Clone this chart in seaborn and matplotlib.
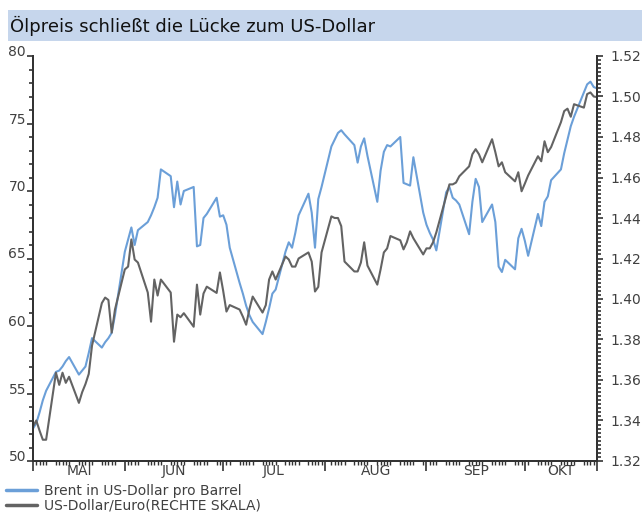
import numpy as np
import pandas as pd
import matplotlib
matplotlib.use("Agg")
import matplotlib.pyplot as plt
import matplotlib.dates as mdates
from matplotlib.ticker import MultipleLocator, FixedLocator, NullFormatter, FormatStrFormatter
from matplotlib.patches import Rectangle
from matplotlib.lines import Line2D
import seaborn as sns

# ---------------- data ----------------
title = "Ölpreis schließt die Lücke zum US-Dollar"
start_date = "2009-05-04"
end_date = "2009-10-23"

brent = [
    52.4, 52.8, 53.6, 54.5, 55.2,
    56.6, 56.7, 57.0, 57.4, 57.7,
    56.4, 56.7, 57.0, 58.0, 59.1,
    58.4, 58.8, 59.1, 59.5, 60.8,
    65.5, 66.4, 67.3, 66.0, 67.1,
    67.7, 68.2, 68.8, 69.5, 71.6,
    71.1, 68.8, 70.7, 69.0, 70.0,
    70.3, 65.9, 66.0, 68.0, 68.3,
    69.5, 68.1, 68.2, 67.5, 65.8,
    63.2, 62.4, 61.5, 60.8, 60.3,
    59.4, 60.3, 61.3, 62.4, 62.7,
    65.5, 66.2, 65.8, 66.9, 68.2,
    69.8, 68.4, 65.8, 69.4, 70.3,
    73.3, 73.8, 74.3, 74.5, 74.2,
    73.4, 72.1, 73.3, 73.9, 72.6,
    69.2, 71.5, 72.9, 73.4, 73.3,
    74.0, 70.6, 70.5, 70.4, 72.5,
    68.4, 67.5, 66.9, 66.4, 65.6,
    69.9, 70.3, 69.5, 69.3, 69.0,
    66.8, 69.2, 70.9, 70.3, 67.7,
    69.0, 67.7, 64.4, 64.0, 64.9,
    64.2, 66.5, 67.2, 66.3, 65.2,
    68.3, 67.4, 69.2, 69.6, 70.8,
    71.6, 72.8, 73.8, 74.8, 75.5,
    77.3, 77.9, 78.1, 77.7, 77.6,
]

usd_eur = [
    1.3370, 1.3400, 1.3350, 1.3305, 1.3305,
    1.3636, 1.3576, 1.3636, 1.3586, 1.3616,
    1.3487, 1.3540, 1.3580, 1.3630, 1.3770,
    1.3980, 1.4007, 1.3995, 1.3834, 1.3948,
    1.4146, 1.4160, 1.4294, 1.4195, 1.4180,
    1.4032, 1.3888, 1.4096, 1.4017, 1.4096,
    1.4032, 1.3789, 1.3923, 1.3910, 1.3930,
    1.3863, 1.4071, 1.3923, 1.4027, 1.4061,
    1.4030, 1.4131, 1.4040, 1.3938, 1.3970,
    1.3948, 1.3913, 1.3873, 1.3950, 1.4012,
    1.3933, 1.3970, 1.4096, 1.4136, 1.4096,
    1.4210, 1.4195, 1.4160, 1.4160, 1.4200,
    1.4230, 1.4185, 1.4037, 1.4060, 1.4230,
    1.4408, 1.4400, 1.4400, 1.4360, 1.4185,
    1.4136, 1.4136, 1.4180, 1.4280, 1.4165,
    1.4071, 1.4146, 1.4230, 1.4250, 1.4311,
    1.4290, 1.4245, 1.4280, 1.4334, 1.4300,
    1.4220, 1.4250, 1.4250, 1.4280, 1.4329,
    1.4507, 1.4566, 1.4566, 1.4575, 1.4606,
    1.4655, 1.4715, 1.4740, 1.4715, 1.4675,
    1.4789, 1.4725, 1.4655, 1.4675, 1.4626,
    1.4581, 1.4626, 1.4532, 1.4570, 1.4610,
    1.4705, 1.4680, 1.4779, 1.4725, 1.4750,
    1.4873, 1.4928, 1.4940, 1.4900, 1.4962,
    1.4945, 1.5012, 1.5020, 1.5000, 1.4997,
]

month_labels = ["MAI", "JUN", "JUL", "AUG", "SEP", "OKT"]
legend_labels = ["Brent in US-Dollar pro Barrel", "US-Dollar/Euro(RECHTE SKALA)"]

# ---------------- build ----------------
dates = pd.bdate_range(start_date, end_date)
df = pd.DataFrame({"Datum": dates, "Brent": brent, "USD_EUR": usd_eur})

sns.set_style("ticks")
plt.rcParams["font.family"] = ["DejaVu Sans"]

BLUE = "#6b9fd8"
GRAY = "#636363"
AXC = "#333333"
TXT = "#404040"

W, H = 642, 513
fig = plt.figure(figsize=(W / 100, H / 100), dpi=100)
ax = fig.add_axes([33 / W, 1 - 461 / H, (597 - 33) / W, (461 - 56) / H])

sns.lineplot(data=df, x="Datum", y="Brent", ax=ax, color=BLUE, lw=1.5, label=legend_labels[0])
ax2 = ax.twinx()
sns.lineplot(data=df, x="Datum", y="USD_EUR", ax=ax2, color=GRAY, lw=1.5, label=legend_labels[1])

for a in (ax, ax2):
    if a.get_legend() is not None:
        a.get_legend().remove()
    a.set_xlabel("")
    a.set_ylabel("")
    a.spines["top"].set_visible(False)
    for s in ("left", "right", "bottom"):
        a.spines[s].set_color(AXC)
        a.spines[s].set_linewidth(1.4)

x0 = pd.Timestamp(start_date)
x1 = pd.Timestamp(end_date)
ax.set_xlim(x0, x1)
ax.set_ylim(50, 80)
ax2.set_ylim(1.32, 1.52)

# left axis ticks
ax.yaxis.set_major_locator(MultipleLocator(5))
ax.yaxis.set_minor_locator(MultipleLocator(1))
ax.tick_params(axis="y", which="major", direction="out", length=4, width=1.2, color=AXC,
               labelsize=10, labelcolor=TXT, pad=1)
ax.tick_params(axis="y", which="minor", direction="out", length=3, width=1.2, color=AXC)
for lab in ax.get_yticklabels():
    lab.set_verticalalignment("baseline")

# right axis ticks
ax2.yaxis.set_major_locator(MultipleLocator(0.02))
ax2.yaxis.set_minor_locator(MultipleLocator(0.002))
ax2.yaxis.set_major_formatter(FormatStrFormatter("%.2f"))
ax2.tick_params(axis="y", which="major", direction="out", length=4, width=1.2, color=AXC,
                labelsize=10, labelcolor=TXT, pad=6)
ax2.tick_params(axis="y", which="minor", direction="out", length=3, width=1.2, color=AXC)

# x axis: month boundaries long ticks, business days short ticks
month_starts = pd.date_range("2009-06-01", "2009-10-01", freq="MS")
major_x = [x0] + list(month_starts) + [x1]
ax.xaxis.set_major_locator(FixedLocator(mdates.date2num(major_x)))
ax.xaxis.set_major_formatter(NullFormatter())
ax.xaxis.set_minor_locator(FixedLocator(mdates.date2num(dates)))
ax.xaxis.set_minor_formatter(NullFormatter())
ax.tick_params(axis="x", which="major", direction="out", length=7, width=1.2, color=AXC)
ax.tick_params(axis="x", which="minor", direction="out", length=3, width=1.0, color=AXC)

# month labels centred in each month's visible span
bounds = [x0] + list(month_starts) + [x1]
mids = [bounds[i] + (bounds[i + 1] - bounds[i]) / 2 for i in range(len(bounds) - 1)]
sec = ax.secondary_xaxis("bottom")
sec.set_xticks(mdates.date2num(mids))
sec.set_xticklabels(month_labels)
sec.tick_params(length=0, pad=2, labelsize=10, labelcolor=TXT)
sec.spines["bottom"].set_visible(False)

# title bar
fig.patches.append(Rectangle((8 / W, 1 - 41 / H), 1 - 8 / W, 31 / H,
                             transform=fig.transFigure, facecolor="#c6d6ec",
                             edgecolor="none", zorder=0))
fig.text(10 / W, 1 - 26 / H, title, ha="left", va="center", fontsize=13, color="#111111")

# legend
handles = [Line2D([], [], color=BLUE, lw=2.5), Line2D([], [], color=GRAY, lw=2.5)]
fig.legend(handles, legend_labels, loc="upper left", bbox_to_anchor=(6 / W, 1 - 484 / H),
           frameon=False, fontsize=10, handlelength=2.2, handletextpad=0.5,
           labelspacing=0.05, borderpad=0, borderaxespad=0, labelcolor=TXT)

fig.savefig("out.png", dpi=100)
